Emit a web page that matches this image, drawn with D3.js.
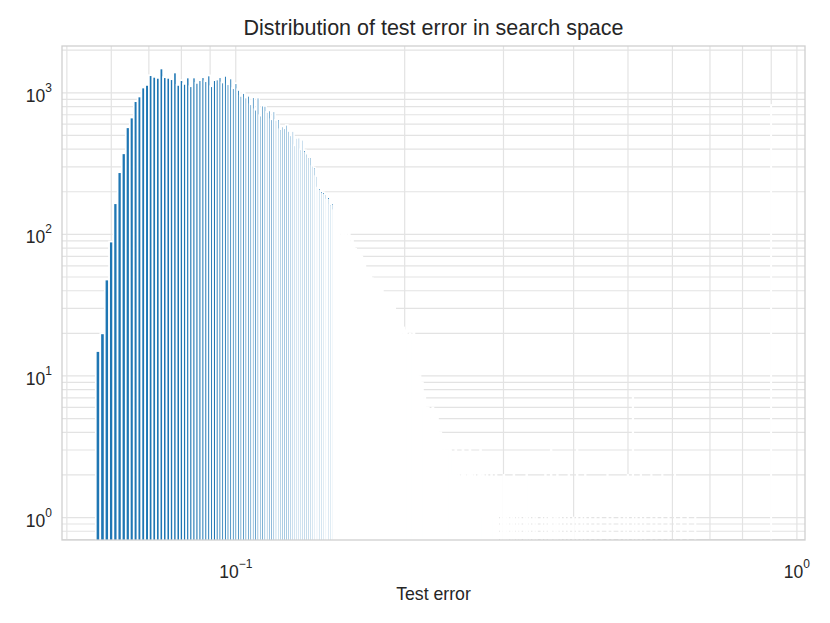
<!DOCTYPE html>
<html>
<head>
<meta charset="utf-8">
<script src="https://cdn.jsdelivr.net/npm/d3@7"></script>
<style>
body{margin:0;background:#fff;}
svg text{font-family:"Liberation Sans",Arial,sans-serif;fill:#262626;}
</style>
</head>
<body>
<svg id="chart" width="830" height="623"></svg>
<script>
// histogram of test errors: equal-width bins between binStart and binEnd
var binStart = 0.0563, binEnd = 0.9, binCount = 800;

// counts, bin 0 onwards
var headCounts = [15, 20, 48, 89, 166, 275, 374, 571, 669, 873,
    942, 1090, 1137, 1332, 1296, 1275, 1486, 1289, 1275, 1248,
    1392, 1137, 1228, 1156, 1283, 1113, 1283, 1175, 1228, 1289,
    1208, 1326, 1113, 1228, 1242, 1289, 1183, 1317, 1150, 1263,
    1078, 1169, 1060, 951, 998, 926, 962, 830, 931, 765,
    926, 694, 817, 808, 732, 753, 651, 741, 643, 651,
    553, 577, 560, 593, 537, 501, 537, 426, 480, 483,
    399, 464, 393, 370, 348, 348, 304, 296, 258, 214,
    211, 202, 198];
// continues right after headCounts (estimated from where grid lines are cut)
var tailCounts = [190, 176, 183, 162, 165, 148, 139, 150, 128, 98,
    112, 96, 104, 93, 101, 88, 91, 84, 79, 76,
    72, 73, 70, 66, 61, 58, 57, 52, 54, 49,
    47, 45, 48, 43, 42, 44, 41, 38, 37, 35,
    33, 36, 31, 32, 29, 31, 28, 27, 24, 19,
    25, 18, 22, 15, 21, 19, 17, 20, 16, 18,
    21, 14, 13, 11, 9, 10, 7, 9, 6, 7,
    6, 5, 6, 5, 4, 5, 6, 4, 5, 4,
    5, 4, 3, 4, 3, 2, 3, 3, 2, 3,
    2, 3, 3, 2, 2, 1, 2, 3, 1, 2,
    2, 1, 1, 2, 3, 1, 2, 1, 1, 2,
    1, 3, 1, 2, 1, 1, 2, 1, 1, 1,
    2, 1, 3, 1, 1, 2, 1, 1, 1, 2,
    1, 1, 1, 1, 2, 1, 1, 1, 1, 2,
    1, 1];
// isolated bins further right: [bin index, count]
var sparseCounts = [[228,1],[231,2],[233,1],[236,1],[240,1],[243,2],[247,1],[251,1],
    [256,1],[259,2],[263,1],[268,1],[272,1],[279,1],[284,2],[289,1],[292,3],[297,1],
    [301,2],[306,1],[312,1],[318,2],[325,1],[331,3],[338,1],[344,2],[352,1],[361,1],
    [370,1],[382,2],[391,1],[404,1],[413,1],[420,2],[430,7],[437,1],[446,2],[455,1],
    [468,2],[479,1],[492,2],[506,1],[521,2],[536,1],[552,1],[571,1],[799,820]];

var xTicks = [0.1, 1], xTickExp = ["\u22121", "0"];
var yTicks = [1, 10, 100, 1000], yTickExp = ["0", "1", "2", "3"];
var titleText = "Distribution of test error in search space";
var xLabelText = "Test error";

var charts = {};
charts.init = function(){
    var counts = new Array(binCount).fill(0);
    headCounts.forEach(function(c, i){ counts[i] = c; });
    tailCounts.forEach(function(c, i){ counts[headCounts.length + i] = c; });
    sparseCounts.forEach(function(d){ counts[d[0]] = d[1]; });

    var w = (binEnd - binStart) / binCount;
    var bins = [];
    counts.forEach(function(c, i){
        if (c > 0) bins.push({x0: binStart + i*w, x1: binStart + (i+1)*w, count: c});
    });
    this.bins = bins;

    this.left = 62; this.right = 805; this.top = 46; this.bottom = 540;

    // log-space 5% margins like matplotlib autoscale
    var lx0 = Math.log10(binStart), lx1 = Math.log10(binEnd), mx = (lx1 - lx0) * 0.05;
    var ly1 = Math.log10(d3.max(bins, d => d.count)), my = ly1 * 0.05;
    this.x = d3.scaleLog().domain([Math.pow(10, lx0 - mx), Math.pow(10, lx1 + mx)]).range([this.left, this.right]);
    this.y = d3.scaleLog().domain([Math.pow(10, -my), Math.pow(10, ly1 + my)]).range([this.bottom, this.top]);
}

charts.drawGrid = function(){
    var svg = d3.select("#chart");
    var x = this.x, y = this.y;
    var g = svg.append("g").attr("class", "grid");

    g.selectAll(".vgrid").data(x.ticks()).enter().append("line")
        .attr("x1", d => x(d)).attr("x2", d => x(d))
        .attr("y1", this.top).attr("y2", this.bottom)
        .attr("stroke", "#e3e3e3").attr("stroke-width", 1.2)

    g.selectAll(".hgrid").data(y.ticks()).enter().append("line")
        .attr("x1", this.left).attr("x2", this.right)
        .attr("y1", d => y(d)).attr("y2", d => y(d))
        .attr("stroke", "#e3e3e3").attr("stroke-width", 1.2)
}

charts.drawBars = function(){
    var svg = d3.select("#chart");
    var x = this.x, y = this.y, bottom = this.bottom;

    svg.append("clipPath").attr("id", "plotclip")
        .append("rect")
        .attr("x", this.left).attr("y", this.top)
        .attr("width", this.right - this.left).attr("height", this.bottom - this.top)

    svg.append("g").attr("clip-path", "url(#plotclip)")
        .selectAll("rect").data(this.bins).enter().append("rect")
        .attr("x", d => x(d.x0))
        .attr("width", d => x(d.x1) - x(d.x0))
        .attr("y", d => y(d.count))
        .attr("height", d => bottom + 5 - y(d.count))
        .attr("fill", "#1f77b4")
        .attr("stroke", "#fff")
        .attr("stroke-width", 1.72)
}

charts.drawAxes = function(){
    var svg = d3.select("#chart");
    var x = this.x, y = this.y;

    svg.append("rect")
        .attr("x", this.left).attr("y", this.top)
        .attr("width", this.right - this.left).attr("height", this.bottom - this.top)
        .attr("fill", "none").attr("stroke", "#d0d0d0").attr("stroke-width", 1.3)

    var xt = svg.selectAll(".xtick").data(xTicks).enter().append("text")
        .attr("x", d => x(d)).attr("y", 578)
        .attr("text-anchor", "middle").attr("font-size", 17.5)
    xt.append("tspan").text("10")
    xt.append("tspan").attr("dy", -10).attr("font-size", 12).text((d, i) => xTickExp[i])

    var yt = svg.selectAll(".ytick").data(yTicks).enter().append("text")
        .attr("x", 52).attr("y", d => y(d) + 9)
        .attr("text-anchor", "end").attr("font-size", 17.5)
    yt.append("tspan").text("10")
    yt.append("tspan").attr("dy", -10).attr("font-size", 12).text((d, i) => yTickExp[i])

    svg.append("text")
        .attr("x", (this.left + this.right)/2).attr("y", 35)
        .attr("text-anchor", "middle").attr("font-size", 21.5)
        .text(titleText)

    svg.append("text")
        .attr("x", (this.left + this.right)/2).attr("y", 600)
        .attr("text-anchor", "middle").attr("font-size", 17.7)
        .text(xLabelText)
}

charts.init();
charts.drawGrid();
charts.drawBars();
charts.drawAxes();
</script>
</body>
</html>
